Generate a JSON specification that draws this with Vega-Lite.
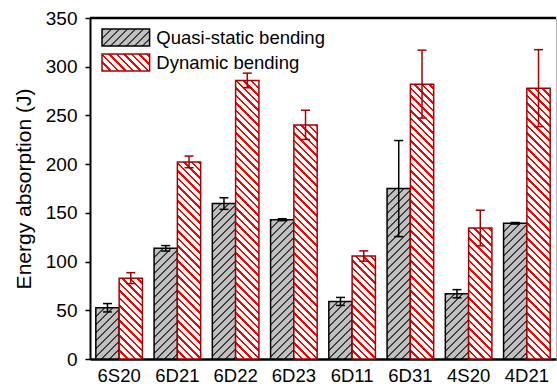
{
  "$schema": "https://vega.github.io/schema/vega-lite/v6.json",
  "width": 466,
  "height": 341,
  "autosize": {"type": "none"},
  "padding": {"left": 90, "top": 18, "right": 1, "bottom": 25},
  "background": "white",
  "config": {
    "font": "Liberation Sans",
    "view": {"stroke": "#b4b4b4", "strokeWidth": 1}
  },
  "params": [
    {"name": "hq", "value": [
      {"offset":0,"color":"#404040"},{"offset":0.01,"color":"#404040"},{"offset":0.01,"color":"#c0c0c0"},{"offset":0.04,"color":"#c0c0c0"},
      {"offset":0.04,"color":"#404040"},{"offset":0.05,"color":"#404040"},{"offset":0.05,"color":"#c0c0c0"},{"offset":0.08,"color":"#c0c0c0"},
      {"offset":0.08,"color":"#404040"},{"offset":0.09,"color":"#404040"},{"offset":0.09,"color":"#c0c0c0"},{"offset":0.12,"color":"#c0c0c0"},
      {"offset":0.12,"color":"#404040"},{"offset":0.13,"color":"#404040"},{"offset":0.13,"color":"#c0c0c0"},{"offset":0.16,"color":"#c0c0c0"},
      {"offset":0.16,"color":"#404040"},{"offset":0.17,"color":"#404040"},{"offset":0.17,"color":"#c0c0c0"},{"offset":0.2,"color":"#c0c0c0"},
      {"offset":0.2,"color":"#404040"},{"offset":0.21,"color":"#404040"},{"offset":0.21,"color":"#c0c0c0"},{"offset":0.24,"color":"#c0c0c0"},
      {"offset":0.24,"color":"#404040"},{"offset":0.25,"color":"#404040"},{"offset":0.25,"color":"#c0c0c0"},{"offset":0.28,"color":"#c0c0c0"},
      {"offset":0.28,"color":"#404040"},{"offset":0.29,"color":"#404040"},{"offset":0.29,"color":"#c0c0c0"},{"offset":0.32,"color":"#c0c0c0"},
      {"offset":0.32,"color":"#404040"},{"offset":0.33,"color":"#404040"},{"offset":0.33,"color":"#c0c0c0"},{"offset":0.36,"color":"#c0c0c0"},
      {"offset":0.36,"color":"#404040"},{"offset":0.37,"color":"#404040"},{"offset":0.37,"color":"#c0c0c0"},{"offset":0.4,"color":"#c0c0c0"},
      {"offset":0.4,"color":"#404040"},{"offset":0.41,"color":"#404040"},{"offset":0.41,"color":"#c0c0c0"},{"offset":0.44,"color":"#c0c0c0"},
      {"offset":0.44,"color":"#404040"},{"offset":0.45,"color":"#404040"},{"offset":0.45,"color":"#c0c0c0"},{"offset":0.48,"color":"#c0c0c0"},
      {"offset":0.48,"color":"#404040"},{"offset":0.49,"color":"#404040"},{"offset":0.49,"color":"#c0c0c0"},{"offset":0.52,"color":"#c0c0c0"},
      {"offset":0.52,"color":"#404040"},{"offset":0.53,"color":"#404040"},{"offset":0.53,"color":"#c0c0c0"},{"offset":0.56,"color":"#c0c0c0"},
      {"offset":0.56,"color":"#404040"},{"offset":0.57,"color":"#404040"},{"offset":0.57,"color":"#c0c0c0"},{"offset":0.6,"color":"#c0c0c0"},
      {"offset":0.6,"color":"#404040"},{"offset":0.61,"color":"#404040"},{"offset":0.61,"color":"#c0c0c0"},{"offset":0.64,"color":"#c0c0c0"},
      {"offset":0.64,"color":"#404040"},{"offset":0.65,"color":"#404040"},{"offset":0.65,"color":"#c0c0c0"},{"offset":0.68,"color":"#c0c0c0"},
      {"offset":0.68,"color":"#404040"},{"offset":0.69,"color":"#404040"},{"offset":0.69,"color":"#c0c0c0"},{"offset":0.72,"color":"#c0c0c0"},
      {"offset":0.72,"color":"#404040"},{"offset":0.73,"color":"#404040"},{"offset":0.73,"color":"#c0c0c0"},{"offset":0.76,"color":"#c0c0c0"},
      {"offset":0.76,"color":"#404040"},{"offset":0.77,"color":"#404040"},{"offset":0.77,"color":"#c0c0c0"},{"offset":0.8,"color":"#c0c0c0"},
      {"offset":0.8,"color":"#404040"},{"offset":0.81,"color":"#404040"},{"offset":0.81,"color":"#c0c0c0"},{"offset":0.84,"color":"#c0c0c0"},
      {"offset":0.84,"color":"#404040"},{"offset":0.85,"color":"#404040"},{"offset":0.85,"color":"#c0c0c0"},{"offset":0.88,"color":"#c0c0c0"},
      {"offset":0.88,"color":"#404040"},{"offset":0.89,"color":"#404040"},{"offset":0.89,"color":"#c0c0c0"},{"offset":0.92,"color":"#c0c0c0"},
      {"offset":0.92,"color":"#404040"},{"offset":0.93,"color":"#404040"},{"offset":0.93,"color":"#c0c0c0"},{"offset":0.96,"color":"#c0c0c0"},
      {"offset":0.96,"color":"#404040"},{"offset":0.97,"color":"#404040"},{"offset":0.97,"color":"#c0c0c0"},{"offset":1,"color":"#c0c0c0"}
    ]},
    {"name": "hd", "value": [
      {"offset":0,"color":"#ff0000"},{"offset":0.0083,"color":"#ff0000"},{"offset":0.0083,"color":"#ffffff"},{"offset":0.025,"color":"#ffffff"},
      {"offset":0.025,"color":"#ff0000"},{"offset":0.0333,"color":"#ff0000"},{"offset":0.0333,"color":"#ffffff"},{"offset":0.05,"color":"#ffffff"},
      {"offset":0.05,"color":"#ff0000"},{"offset":0.0583,"color":"#ff0000"},{"offset":0.0583,"color":"#ffffff"},{"offset":0.075,"color":"#ffffff"},
      {"offset":0.075,"color":"#ff0000"},{"offset":0.0833,"color":"#ff0000"},{"offset":0.0833,"color":"#ffffff"},{"offset":0.1,"color":"#ffffff"},
      {"offset":0.1,"color":"#ff0000"},{"offset":0.1083,"color":"#ff0000"},{"offset":0.1083,"color":"#ffffff"},{"offset":0.125,"color":"#ffffff"},
      {"offset":0.125,"color":"#ff0000"},{"offset":0.1333,"color":"#ff0000"},{"offset":0.1333,"color":"#ffffff"},{"offset":0.15,"color":"#ffffff"},
      {"offset":0.15,"color":"#ff0000"},{"offset":0.1583,"color":"#ff0000"},{"offset":0.1583,"color":"#ffffff"},{"offset":0.175,"color":"#ffffff"},
      {"offset":0.175,"color":"#ff0000"},{"offset":0.1833,"color":"#ff0000"},{"offset":0.1833,"color":"#ffffff"},{"offset":0.2,"color":"#ffffff"},
      {"offset":0.2,"color":"#ff0000"},{"offset":0.2083,"color":"#ff0000"},{"offset":0.2083,"color":"#ffffff"},{"offset":0.225,"color":"#ffffff"},
      {"offset":0.225,"color":"#ff0000"},{"offset":0.2333,"color":"#ff0000"},{"offset":0.2333,"color":"#ffffff"},{"offset":0.25,"color":"#ffffff"},
      {"offset":0.25,"color":"#ff0000"},{"offset":0.2583,"color":"#ff0000"},{"offset":0.2583,"color":"#ffffff"},{"offset":0.275,"color":"#ffffff"},
      {"offset":0.275,"color":"#ff0000"},{"offset":0.2833,"color":"#ff0000"},{"offset":0.2833,"color":"#ffffff"},{"offset":0.3,"color":"#ffffff"},
      {"offset":0.3,"color":"#ff0000"},{"offset":0.3083,"color":"#ff0000"},{"offset":0.3083,"color":"#ffffff"},{"offset":0.325,"color":"#ffffff"},
      {"offset":0.325,"color":"#ff0000"},{"offset":0.3333,"color":"#ff0000"},{"offset":0.3333,"color":"#ffffff"},{"offset":0.35,"color":"#ffffff"},
      {"offset":0.35,"color":"#ff0000"},{"offset":0.3583,"color":"#ff0000"},{"offset":0.3583,"color":"#ffffff"},{"offset":0.375,"color":"#ffffff"},
      {"offset":0.375,"color":"#ff0000"},{"offset":0.3833,"color":"#ff0000"},{"offset":0.3833,"color":"#ffffff"},{"offset":0.4,"color":"#ffffff"},
      {"offset":0.4,"color":"#ff0000"},{"offset":0.4083,"color":"#ff0000"},{"offset":0.4083,"color":"#ffffff"},{"offset":0.425,"color":"#ffffff"},
      {"offset":0.425,"color":"#ff0000"},{"offset":0.4333,"color":"#ff0000"},{"offset":0.4333,"color":"#ffffff"},{"offset":0.45,"color":"#ffffff"},
      {"offset":0.45,"color":"#ff0000"},{"offset":0.4583,"color":"#ff0000"},{"offset":0.4583,"color":"#ffffff"},{"offset":0.475,"color":"#ffffff"},
      {"offset":0.475,"color":"#ff0000"},{"offset":0.4833,"color":"#ff0000"},{"offset":0.4833,"color":"#ffffff"},{"offset":0.5,"color":"#ffffff"},
      {"offset":0.5,"color":"#ff0000"},{"offset":0.5083,"color":"#ff0000"},{"offset":0.5083,"color":"#ffffff"},{"offset":0.525,"color":"#ffffff"},
      {"offset":0.525,"color":"#ff0000"},{"offset":0.5333,"color":"#ff0000"},{"offset":0.5333,"color":"#ffffff"},{"offset":0.55,"color":"#ffffff"},
      {"offset":0.55,"color":"#ff0000"},{"offset":0.5583,"color":"#ff0000"},{"offset":0.5583,"color":"#ffffff"},{"offset":0.575,"color":"#ffffff"},
      {"offset":0.575,"color":"#ff0000"},{"offset":0.5833,"color":"#ff0000"},{"offset":0.5833,"color":"#ffffff"},{"offset":0.6,"color":"#ffffff"},
      {"offset":0.6,"color":"#ff0000"},{"offset":0.6083,"color":"#ff0000"},{"offset":0.6083,"color":"#ffffff"},{"offset":0.625,"color":"#ffffff"},
      {"offset":0.625,"color":"#ff0000"},{"offset":0.6333,"color":"#ff0000"},{"offset":0.6333,"color":"#ffffff"},{"offset":0.65,"color":"#ffffff"},
      {"offset":0.65,"color":"#ff0000"},{"offset":0.6583,"color":"#ff0000"},{"offset":0.6583,"color":"#ffffff"},{"offset":0.675,"color":"#ffffff"},
      {"offset":0.675,"color":"#ff0000"},{"offset":0.6833,"color":"#ff0000"},{"offset":0.6833,"color":"#ffffff"},{"offset":0.7,"color":"#ffffff"},
      {"offset":0.7,"color":"#ff0000"},{"offset":0.7083,"color":"#ff0000"},{"offset":0.7083,"color":"#ffffff"},{"offset":0.725,"color":"#ffffff"},
      {"offset":0.725,"color":"#ff0000"},{"offset":0.7333,"color":"#ff0000"},{"offset":0.7333,"color":"#ffffff"},{"offset":0.75,"color":"#ffffff"},
      {"offset":0.75,"color":"#ff0000"},{"offset":0.7583,"color":"#ff0000"},{"offset":0.7583,"color":"#ffffff"},{"offset":0.775,"color":"#ffffff"},
      {"offset":0.775,"color":"#ff0000"},{"offset":0.7833,"color":"#ff0000"},{"offset":0.7833,"color":"#ffffff"},{"offset":0.8,"color":"#ffffff"},
      {"offset":0.8,"color":"#ff0000"},{"offset":0.8083,"color":"#ff0000"},{"offset":0.8083,"color":"#ffffff"},{"offset":0.825,"color":"#ffffff"},
      {"offset":0.825,"color":"#ff0000"},{"offset":0.8333,"color":"#ff0000"},{"offset":0.8333,"color":"#ffffff"},{"offset":0.85,"color":"#ffffff"},
      {"offset":0.85,"color":"#ff0000"},{"offset":0.8583,"color":"#ff0000"},{"offset":0.8583,"color":"#ffffff"},{"offset":0.875,"color":"#ffffff"},
      {"offset":0.875,"color":"#ff0000"},{"offset":0.8833,"color":"#ff0000"},{"offset":0.8833,"color":"#ffffff"},{"offset":0.9,"color":"#ffffff"},
      {"offset":0.9,"color":"#ff0000"},{"offset":0.9083,"color":"#ff0000"},{"offset":0.9083,"color":"#ffffff"},{"offset":0.925,"color":"#ffffff"},
      {"offset":0.925,"color":"#ff0000"},{"offset":0.9333,"color":"#ff0000"},{"offset":0.9333,"color":"#ffffff"},{"offset":0.95,"color":"#ffffff"},
      {"offset":0.95,"color":"#ff0000"},{"offset":0.9583,"color":"#ff0000"},{"offset":0.9583,"color":"#ffffff"},{"offset":0.975,"color":"#ffffff"},
      {"offset":0.975,"color":"#ff0000"},{"offset":0.9833,"color":"#ff0000"},{"offset":0.9833,"color":"#ffffff"},{"offset":1,"color":"#ffffff"}
    ]}
  ],
  "data": {"values": [
    {"sample": "6S20", "type": "Quasi-static bending", "value": 52.6, "lo": 48.3, "hi": 56.9},
    {"sample": "6S20", "type": "Dynamic bending", "value": 83.0, "lo": 77.4, "hi": 88.6},
    {"sample": "6D21", "type": "Quasi-static bending", "value": 113.6, "lo": 110.8, "hi": 116.4},
    {"sample": "6D21", "type": "Dynamic bending", "value": 202.3, "lo": 196.3, "hi": 208.3},
    {"sample": "6D22", "type": "Quasi-static bending", "value": 159.5, "lo": 153.6, "hi": 165.5},
    {"sample": "6D22", "type": "Dynamic bending", "value": 285.9, "lo": 278.4, "hi": 293.4},
    {"sample": "6D23", "type": "Quasi-static bending", "value": 143.0, "lo": 142.0, "hi": 144.0},
    {"sample": "6D23", "type": "Dynamic bending", "value": 240.1, "lo": 225.3, "hi": 255.3},
    {"sample": "6D11", "type": "Quasi-static bending", "value": 59.1, "lo": 55.0, "hi": 63.2},
    {"sample": "6D11", "type": "Dynamic bending", "value": 105.7, "lo": 100.4, "hi": 111.0},
    {"sample": "6D31", "type": "Quasi-static bending", "value": 174.9, "lo": 125.6, "hi": 224.2},
    {"sample": "6D31", "type": "Dynamic bending", "value": 282.1, "lo": 247.3, "hi": 317.0},
    {"sample": "4S20", "type": "Quasi-static bending", "value": 67.0, "lo": 62.8, "hi": 71.2},
    {"sample": "4S20", "type": "Dynamic bending", "value": 134.4, "lo": 116.1, "hi": 152.7},
    {"sample": "4D21", "type": "Quasi-static bending", "value": 139.3, "lo": 138.5, "hi": 140.1},
    {"sample": "4D21", "type": "Dynamic bending", "value": 278.0, "lo": 238.5, "hi": 317.5}
  ]},
  "layer": [
    {
      "mark": {
        "type": "bar",
        "strokeWidth": 1.5,
        "fill": {"expr": "datum.type ? (datum.type === 'Quasi-static bending' ? {gradient: 'linear', x1: 0, y1: 0, x2: 200 * bandwidth('xOffset') / (pow(bandwidth('xOffset'), 2) + pow(scale('y', 0) - scale('y', datum.value), 2)), y2: 200 * (scale('y', 0) - scale('y', datum.value)) / (pow(bandwidth('xOffset'), 2) + pow(scale('y', 0) - scale('y', datum.value), 2)), stops: hq} : {gradient: 'linear', x1: 0, y1: 1, x2: 300 * bandwidth('xOffset') / (pow(bandwidth('xOffset'), 2) + pow(scale('y', 0) - scale('y', datum.value), 2)), y2: 1 - 300 * (scale('y', 0) - scale('y', datum.value)) / (pow(bandwidth('xOffset'), 2) + pow(scale('y', 0) - scale('y', datum.value), 2)), stops: hd}) : (datum.value === 'Quasi-static bending' ? {gradient: 'linear', x1: 0, y1: 0, x2: 3.736, y2: 1.319, stops: hq} : {gradient: 'linear', x1: 0, y1: 1, x2: 5.604, y2: -0.978, stops: hd})"}
      },
      "encoding": {
        "x": {
          "field": "sample", "type": "nominal",
          "sort": ["6S20", "6D21", "6D22", "6D23", "6D11", "6D31", "4S20", "4D21"],
          "scale": {"paddingInner": 0.2, "paddingOuter": 0.1},
          "axis": {
            "title": null, "orient": "bottom", "labelAngle": 0, "ticks": false,
            "domainColor": "#000000", "domainWidth": 2.5,
            "labelFontSize": 18.5, "labelColor": "#000000", "labelPadding": 7,
            "grid": false
          }
        },
        "xOffset": {
          "field": "type", "type": "nominal",
          "sort": ["Quasi-static bending", "Dynamic bending"],
          "scale": {"paddingInner": 0, "paddingOuter": 0}
        },
        "y": {
          "field": "value", "type": "quantitative",
          "scale": {"domain": [0, 350], "nice": false, "zero": true},
          "axis": {
            "title": "Energy absorption (J)",
            "titleFontSize": 21, "titleFontWeight": "normal", "titleColor": "#000000", "titlePadding": 11,
            "values": [0, 25, 50, 75, 100, 125, 150, 175, 200, 225, 250, 275, 300, 325, 350],
            "labelExpr": "datum.value % 50 === 0 ? datum.label : ''",
            "tickSize": {"condition": {"test": "datum.value % 50 === 0", "value": 5}, "value": 3.5},
            "tickColor": "#000000", "tickWidth": 1.5,
            "domainColor": "#000000", "domainWidth": 2,
            "labelFontSize": 19, "labelColor": "#000000", "labelPadding": 8,
            "grid": false
          }
        },
        "stroke": {
          "field": "type", "type": "nominal",
          "scale": {"domain": ["Quasi-static bending", "Dynamic bending"], "range": ["#000000", "#a80000"]},
          "legend": {
            "title": null,
            "orient": "none", "legendX": 11, "legendY": 10,
            "padding": 0,
            "symbolType": "M-2.8,-1H2.8V1H-2.8Z",
            "symbolSize": 289,
            "symbolStrokeWidth": 1.5,
            "symbolOffset": 15.3,
            "labelOffset": 21,
            "labelLimit": 400,
            "rowPadding": 2,
            "labelFontSize": 18.5,
            "labelColor": "#000000"
          }
        }
      }
    },
    {
      "mark": {"type": "rule", "strokeWidth": 1.5},
      "encoding": {
        "x": {"field": "sample", "type": "nominal", "sort": ["6S20", "6D21", "6D22", "6D23", "6D11", "6D31", "4S20", "4D21"]},
        "xOffset": {"field": "type", "type": "nominal", "sort": ["Quasi-static bending", "Dynamic bending"]},
        "y": {"field": "lo", "type": "quantitative"},
        "y2": {"field": "hi"},
        "stroke": {"field": "type", "type": "nominal"}
      }
    },
    {
      "mark": {"type": "point", "shape": "stroke", "size": 81, "strokeWidth": 1.5, "filled": false, "opacity": 1},
      "encoding": {
        "x": {"field": "sample", "type": "nominal", "sort": ["6S20", "6D21", "6D22", "6D23", "6D11", "6D31", "4S20", "4D21"]},
        "xOffset": {"field": "type", "type": "nominal", "sort": ["Quasi-static bending", "Dynamic bending"]},
        "y": {"field": "hi", "type": "quantitative"},
        "stroke": {"field": "type", "type": "nominal"}
      }
    },
    {
      "mark": {"type": "point", "shape": "stroke", "size": 81, "strokeWidth": 1.5, "filled": false, "opacity": 1},
      "encoding": {
        "x": {"field": "sample", "type": "nominal", "sort": ["6S20", "6D21", "6D22", "6D23", "6D11", "6D31", "4S20", "4D21"]},
        "xOffset": {"field": "type", "type": "nominal", "sort": ["Quasi-static bending", "Dynamic bending"]},
        "y": {"field": "lo", "type": "quantitative"},
        "stroke": {"field": "type", "type": "nominal"}
      }
    },
    {
      "data": {"values": [{"edge": "top"}]},
      "mark": {"type": "rule", "strokeWidth": 2.5, "color": "#000000"},
      "encoding": {"y": {"datum": 350}}
    }
  ]
}
